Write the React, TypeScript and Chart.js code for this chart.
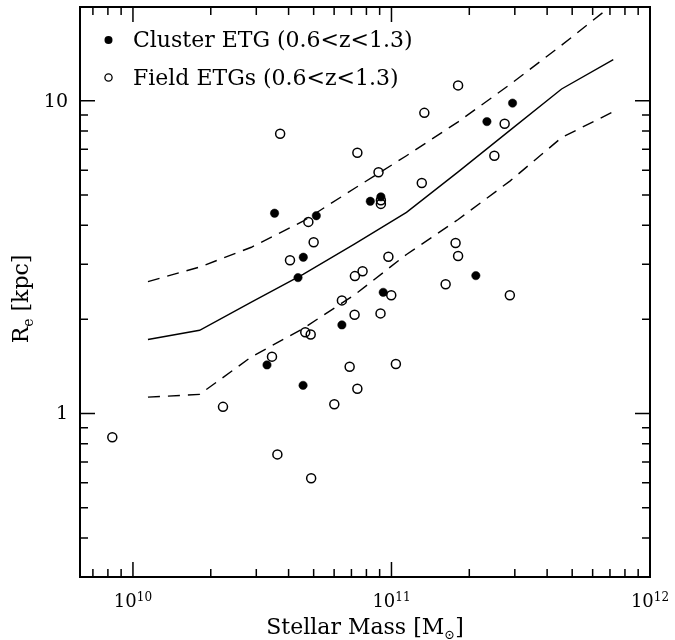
import React, { useEffect, useRef } from "react";
import { Chart, registerables } from "chart.js";

Chart.register(...registerables);

// ---- Data ----
const clusterMass = [3.53e10, 5.12e10, 4.56e10, 4.35e10, 3.30e10, 4.55e10, 6.43e10, 8.28e10, 9.1e10, 9.29e10, 2.12e11, 2.34e11, 2.94e11];
const clusterRe = [4.37, 4.29, 3.16, 2.72, 1.43, 1.23, 1.92, 4.77, 4.93, 2.44, 2.76, 8.58, 9.83];

const fieldMass = [
  3.71e10, 7.38e10, 8.91e10, 9.1e10, 9.1e10, 4.77e10, 5.0e10, 4.05e10, 9.73e10, 7.22e10,
  7.73e10, 9.98e10, 6.43e10, 7.2e10, 9.07e10, 4.64e10, 4.87e10, 3.45e10, 6.89e10, 1.04e11,
  7.38e10, 6.01e10, 3.62e10, 4.89e10, 1.81e11, 1.34e11, 2.74e11, 2.5e11, 1.31e11, 1.77e11,
  1.81e11, 1.62e11, 2.87e11, 8.32e9, 2.23e10,
];
const fieldRe = [
  7.85, 6.82, 5.91, 4.81, 4.68, 4.1, 3.53, 3.09, 3.17, 2.75,
  2.85, 2.39, 2.3, 2.07, 2.09, 1.82, 1.79, 1.52, 1.41, 1.44,
  1.2, 1.07, 0.74, 0.621, 11.2, 9.15, 8.44, 6.67, 5.46, 3.51,
  3.19, 2.59, 2.39, 0.84, 1.05,
];

const modelMass = [1.143e10, 1.811e10, 2.871e10, 4.55e10, 7.21e10, 1.143e11, 1.811e11, 2.871e11, 4.55e11, 7.21e11];
const modelMedian = [1.725, 1.846, 2.269, 2.786, 3.485, 4.397, 5.925, 8.04, 10.91, 13.54];
const modelUpper = [2.642, 2.94, 3.401, 4.119, 5.251, 6.673, 8.564, 11.27, 15.06, 20.35];
const modelLower = [1.128, 1.151, 1.517, 1.869, 2.399, 3.225, 4.172, 5.536, 7.625, 9.23];

const xMajorTicks = [1e10, 1e11, 1e12];
const xTickExponents = ["10", "11", "12"];
const xMinorTicks = [7e9, 8e9, 9e9, 2e10, 3e10, 4e10, 5e10, 6e10, 7e10, 8e10, 9e10, 2e11, 3e11, 4e11, 5e11, 6e11, 7e11, 8e11, 9e11];
const yMajorTicks = [1, 10];
const yTickLabels = ["1", "10"];
const yMinorTicks = [0.4, 0.5, 0.6, 0.7, 0.8, 0.9, 2, 3, 4, 5, 6, 7, 8, 9];

const legendLabels = ["Cluster ETG (0.6<z<1.3)", "Field ETGs (0.6<z<1.3)"];

const FONT = '"DejaVu Serif", serif';

const toXY = (xs: number[], ys: number[]) => xs.map((x, i) => ({ x, y: ys[i] }));

const framePlugin = {
  id: "framePlugin",
  afterDraw(chart: any) {
    const { ctx, chartArea, scales } = chart;
    const { left, right, top, bottom } = chartArea;
    const xs = scales.x;
    const ys = scales.y;
    ctx.save();
    ctx.strokeStyle = "#000";
    ctx.fillStyle = "#000";
    ctx.lineWidth = 2;
    ctx.strokeRect(left, top, right - left, bottom - top);

    const MAJ = 15;
    const MIN = 8;
    ctx.lineWidth = 1.5;
    const drawX = (v: number, len: number) => {
      const px = xs.getPixelForValue(v);
      if (px < left - 0.5 || px > right + 0.5) return;
      ctx.beginPath();
      ctx.moveTo(px, bottom);
      ctx.lineTo(px, bottom - len);
      ctx.moveTo(px, top);
      ctx.lineTo(px, top + len);
      ctx.stroke();
    };
    const drawY = (v: number, len: number) => {
      const py = ys.getPixelForValue(v);
      if (py < top - 0.5 || py > bottom + 0.5) return;
      ctx.beginPath();
      ctx.moveTo(left, py);
      ctx.lineTo(left + len, py);
      ctx.moveTo(right, py);
      ctx.lineTo(right - len, py);
      ctx.stroke();
    };
    xMajorTicks.forEach((v) => drawX(v, MAJ));
    xMinorTicks.forEach((v) => drawX(v, MIN));
    yMajorTicks.forEach((v) => drawY(v, MAJ));
    yMinorTicks.forEach((v) => drawY(v, MIN));

    // y tick labels
    ctx.font = `19px ${FONT}`;
    ctx.textAlign = "right";
    ctx.textBaseline = "middle";
    yMajorTicks.forEach((v, i) => {
      ctx.fillText(yTickLabels[i], left - 12, ys.getPixelForValue(v) + 1);
    });

    // x tick labels with superscript exponents
    ctx.textAlign = "left";
    ctx.textBaseline = "alphabetic";
    xMajorTicks.forEach((v, i) => {
      const px = xs.getPixelForValue(v);
      ctx.font = `18px ${FONT}`;
      const wb = ctx.measureText("10").width;
      ctx.font = `12px ${FONT}`;
      const we = ctx.measureText(xTickExponents[i]).width;
      const start = px - (wb + we) / 2;
      const base = bottom + 30;
      ctx.font = `18px ${FONT}`;
      ctx.fillText("10", start, base);
      ctx.font = `12px ${FONT}`;
      ctx.fillText(xTickExponents[i], start + wb, base - 6);
    });

    // x axis title
    {
      const parts = [
        { t: "Stellar Mass [M", f: `22px ${FONT}`, dy: 0 },
        { t: "\u2299", f: `13px ${FONT}`, dy: 5 },
        { t: "]", f: `22px ${FONT}`, dy: 0 },
      ];
      let total = 0;
      parts.forEach((p) => {
        ctx.font = p.f;
        total += ctx.measureText(p.t).width;
      });
      let x = (left + right) / 2 - total / 2;
      const base = 634;
      parts.forEach((p) => {
        ctx.font = p.f;
        ctx.fillText(p.t, x, base + p.dy);
        x += ctx.measureText(p.t).width;
      });
    }

    // y axis title (rotated)
    {
      const parts = [
        { t: "R", f: `22px ${FONT}`, dy: 0 },
        { t: "e", f: `14px ${FONT}`, dy: 5 },
        { t: " [kpc]", f: `22px ${FONT}`, dy: 0 },
      ];
      let total = 0;
      parts.forEach((p) => {
        ctx.font = p.f;
        total += ctx.measureText(p.t).width;
      });
      ctx.save();
      ctx.translate(28, 299);
      ctx.rotate(-Math.PI / 2);
      let x = -total / 2;
      parts.forEach((p) => {
        ctx.font = p.f;
        ctx.fillText(p.t, x, p.dy);
        x += ctx.measureText(p.t).width;
      });
      ctx.restore();
    }

    // legend
    const lx = 108.5;
    const rows = [40, 77.5];
    ctx.lineWidth = 1.3;
    ctx.beginPath();
    ctx.arc(lx, rows[0], 4, 0, Math.PI * 2);
    ctx.fill();
    ctx.beginPath();
    ctx.arc(lx, rows[1], 3.6, 0, Math.PI * 2);
    ctx.stroke();
    ctx.font = `22px ${FONT}`;
    ctx.textAlign = "left";
    ctx.textBaseline = "alphabetic";
    ctx.fillText(legendLabels[0], 133, 47);
    ctx.fillText(legendLabels[1], 133, 84.5);

    ctx.restore();
  },
};

export default function App() {
  const ref = useRef<HTMLCanvasElement | null>(null);
  useEffect(() => {
    if (!ref.current) return;
    const chart = new Chart(ref.current, {
      type: "scatter",
      data: {
        datasets: [
          {
            label: "median",
            data: toXY(modelMass, modelMedian),
            showLine: true,
            borderColor: "#000",
            borderWidth: 1.4,
            pointRadius: 0,
            fill: false,
            tension: 0,
          },
          {
            label: "upper",
            data: toXY(modelMass, modelUpper),
            showLine: true,
            borderColor: "#000",
            borderWidth: 1.4,
            borderDash: [12, 8],
            pointRadius: 0,
            fill: false,
            tension: 0,
          },
          {
            label: "lower",
            data: toXY(modelMass, modelLower),
            showLine: true,
            borderColor: "#000",
            borderWidth: 1.4,
            borderDash: [12, 8],
            pointRadius: 0,
            fill: false,
            tension: 0,
          },
          {
            label: legendLabels[1],
            data: toXY(fieldMass, fieldRe),
            pointStyle: "circle",
            pointRadius: 4.5,
            pointBackgroundColor: "rgba(255,255,255,0)",
            pointBorderColor: "#000",
            pointBorderWidth: 1.5,
            showLine: false,
          },
          {
            label: legendLabels[0],
            data: toXY(clusterMass, clusterRe),
            pointStyle: "circle",
            pointRadius: 4.2,
            pointBackgroundColor: "#000",
            pointBorderColor: "#000",
            pointBorderWidth: 0.5,
            showLine: false,
          },
        ],
      },
      options: {
        animation: false,
        responsive: true,
        maintainAspectRatio: false,
        devicePixelRatio: 1,
        layout: { padding: { left: 80, top: 7, right: 25, bottom: 63 } },
        plugins: {
          legend: { display: false },
          tooltip: { enabled: false },
          title: { display: false },
        },
        scales: {
          x: {
            type: "logarithmic",
            display: false,
            min: 6.24e9,
            max: 1e12,
          },
          y: {
            type: "logarithmic",
            display: false,
            min: 0.3162,
            max: 19.95,
          },
        },
      },
      plugins: [framePlugin],
    });
    return () => chart.destroy();
  }, []);
  return (
    <div style={{ position: "absolute", left: 0, top: 0, width: 675, height: 640, background: "#fff" }}>
      <canvas ref={ref} />
    </div>
  );
}
